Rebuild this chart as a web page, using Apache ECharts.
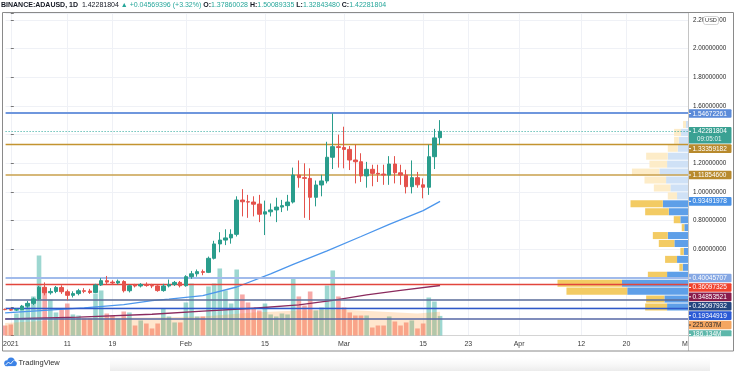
<!DOCTYPE html>
<html>
<head>
<meta charset="utf-8">
<script src="https://cdn.jsdelivr.net/npm/echarts@6.0.0/dist/echarts.min.js"></script>
<style>
html,body{margin:0;padding:0;background:#ffffff;overflow:hidden}
#chart{width:736px;height:371px}
</style>
</head>
<body>
<div id="chart"></div>
<script>
// ================= DATA =================
const symbolTitle = 'BINANCE:ADAUSD, 1D';
const countdown = '09:05:01';

const dates = [
 '2020-12-31',
 '2021-01-01','2021-01-02','2021-01-03','2021-01-04','2021-01-05','2021-01-06','2021-01-07','2021-01-08','2021-01-09','2021-01-10',
 '2021-01-11','2021-01-12','2021-01-13','2021-01-14','2021-01-15','2021-01-16','2021-01-17','2021-01-18','2021-01-19','2021-01-20',
 '2021-01-21','2021-01-22','2021-01-23','2021-01-24','2021-01-25','2021-01-26','2021-01-27','2021-01-28','2021-01-29','2021-01-30','2021-01-31',
 '2021-02-01','2021-02-02','2021-02-03','2021-02-04','2021-02-05','2021-02-06','2021-02-07','2021-02-08','2021-02-09','2021-02-10',
 '2021-02-11','2021-02-12','2021-02-13','2021-02-14','2021-02-15','2021-02-16','2021-02-17','2021-02-18','2021-02-19','2021-02-20',
 '2021-02-21','2021-02-22','2021-02-23','2021-02-24','2021-02-25','2021-02-26','2021-02-27','2021-02-28',
 '2021-03-01','2021-03-02','2021-03-03','2021-03-04','2021-03-05','2021-03-06','2021-03-07','2021-03-08','2021-03-09','2021-03-10',
 '2021-03-11','2021-03-12','2021-03-13','2021-03-14','2021-03-15','2021-03-16','2021-03-17','2021-03-18'
];
const opens = [
 0.1820,
 0.1805,0.1770,0.1800,0.2050,0.2240,0.2550,0.3360,0.2980,0.3070,0.3350,
 0.3050,0.2800,0.2920,0.3120,0.3100,0.3000,0.3520,0.3820,0.3720,0.3660,
 0.3760,0.3120,0.3500,0.3450,0.3560,0.3480,0.3450,0.3130,0.3450,0.3550,0.3700,
 0.3470,0.4100,0.4300,0.4450,0.4400,0.5380,0.6380,0.6650,0.6800,0.7050,
 0.9440,0.9320,0.9300,0.9160,0.8460,0.8620,0.8750,0.8950,0.9050,0.9300,
 1.1180,1.1000,1.0950,0.9630,1.0490,1.0770,1.2420,1.3160,
 1.3100,1.2970,1.2230,1.2110,1.1120,1.1580,1.1300,1.1250,1.1180,1.1950,
 1.1340,1.1180,1.0370,1.1000,1.0500,1.0330,1.2460,1.37860028
];
const highs = [
 0.1880,
 0.1870,0.1900,0.2130,0.2400,0.2650,0.3450,0.3700,0.3300,0.3450,0.3500,
 0.3200,0.3080,0.3250,0.3300,0.3250,0.3600,0.4000,0.4150,0.3850,0.3900,
 0.3850,0.3550,0.3600,0.3650,0.3700,0.3600,0.3500,0.3600,0.3900,0.3800,0.3800,
 0.4200,0.4500,0.4600,0.4600,0.5500,0.6600,0.7200,0.7400,0.7400,0.9700,
 1.0200,0.9800,0.9700,0.9800,0.9400,0.9200,0.9600,0.9450,0.9800,1.1700,
 1.2200,1.2000,1.1650,1.0800,1.1200,1.3500,1.54672261,1.4000,
 1.4550,1.3200,1.3300,1.2700,1.2100,1.1900,1.1900,1.1900,1.2500,1.2500,
 1.1900,1.1550,1.2200,1.1400,1.0950,1.3300,1.4400,1.50089335
];
const lows = [
 0.1760,
 0.1720,0.1700,0.1770,0.1930,0.2120,0.2460,0.2800,0.2850,0.2950,0.2900,
 0.2450,0.2650,0.2800,0.2950,0.2900,0.2950,0.3450,0.3550,0.3550,0.3550,
 0.3000,0.3000,0.3350,0.3350,0.3400,0.3300,0.3050,0.3050,0.3350,0.3450,0.3350,
 0.3400,0.3950,0.4100,0.4200,0.4350,0.5300,0.5800,0.6300,0.6400,0.6900,
 0.8300,0.8200,0.8300,0.7900,0.7000,0.8300,0.7900,0.8600,0.8700,0.9200,
 1.0300,0.8200,0.8050,0.9000,0.9700,1.0600,1.1600,1.1700,
 1.1650,1.1530,1.0600,1.0700,1.0300,1.0400,1.0700,1.0500,1.0500,1.0600,
 1.0500,0.9900,0.9900,1.0300,0.9560,0.9800,1.1600,1.32843480
];
const closes = [
 0.1805,
 0.1770,0.1800,0.2050,0.2240,0.2550,0.3360,0.2980,0.3070,0.3350,0.3050,
 0.2800,0.2920,0.3120,0.3080,0.3000,0.3520,0.3820,0.3720,0.3660,0.3780,
 0.3120,0.3470,0.3450,0.3560,0.3480,0.3450,0.3130,0.3450,0.3550,0.3700,0.3470,
 0.4100,0.4300,0.4450,0.4400,0.5380,0.6380,0.6650,0.6800,0.7050,0.9440,
 0.9320,0.9300,0.9150,0.8450,0.8620,0.8750,0.8950,0.9050,0.9300,1.1180,
 1.1000,1.0950,0.9630,1.0490,1.0770,1.2420,1.3160,1.3100,
 1.2970,1.2230,1.2110,1.1120,1.1580,1.1300,1.1250,1.1180,1.1950,1.1340,
 1.1180,1.0370,1.1000,1.0500,1.0330,1.2460,1.37712408,1.42281804
];
// volume, millions
const volumes = [
 95,
 105,209,257,304,371,760,456,342,219,247,
 304,200,190,162,162,399,428,209,190,162,
 228,219,95,143,114,67,114,257,181,124,124,
 314,494,181,181,466,494,637,428,304,627,
 390,314,266,238,304,200,181,209,200,542,
 371,285,418,238,266,475,618,371,
 266,219,190,190,190,76,95,95,181,133,
 95,124,143,67,114,361,323,186.134
];

// moving averages
const maFastDates  = ['2020-12-31','2021-01-07','2021-01-14','2021-01-21','2021-01-26','2021-01-29','2021-02-04','2021-02-10','2021-02-16','2021-02-20','2021-02-26','2021-03-04','2021-03-09','2021-03-15','2021-03-18'];
const maFastValues = [0.157,0.175,0.192,0.215,0.243,0.254,0.278,0.338,0.430,0.495,0.590,0.690,0.775,0.870,0.93491978];
const maSlowDates  = ['2020-12-31','2021-01-13','2021-01-26','2021-02-04','2021-02-13','2021-02-21','2021-02-27','2021-03-05','2021-03-11','2021-03-18'];
const maSlowValues = [0.115,0.128,0.148,0.170,0.190,0.213,0.245,0.283,0.315,0.34853521];
const volMaDates   = ['2020-12-31','2021-01-08','2021-01-17','2021-01-26','2021-02-04','2021-02-13','2021-02-21','2021-02-28','2021-03-07','2021-03-14','2021-03-18'];
const volMaValues  = [119,143,171,171,181,219,238,247,228,209,225.037];

// horizontal levels
const levelValues = [1.54672261,1.33359182,1.11854600,0.40045707,0.36097325,0.25097932,0.19344919,0.115];

// volume profile (24 price rows), up / down volume per row
const vpLow = 0.1707, vpStep = 0.0553;
const vpUp   = [420,474,1220,1326,420,106,220,86,274,406,74,154,386,506,220,354,440,574,420,406,206,186,140,40];
const vpDown = [440,366,1220,1294,386,68,240,68,312,300,52,132,474,648,186,332,434,552,354,434,200,94,140,60];

// time axis tick labels
const tickDates  = ['2021-01-01','2021-01-11','2021-01-19','2021-02-01','2021-02-15','2021-03-01','2021-03-15','2021-03-23','2021-04-01','2021-04-12','2021-04-20'];
const tickLabels = ['2021','11','19','Feb','15','Mar','15','23','Apr','12','20'];
const extraTickDate = '2021-05-01', extraTickLabel = 'May';

// ================= STYLE =================
const FONT = '"Liberation Sans", Arial, sans-serif';
const UP = '#2a9d8c', DOWN = '#e4524c';
const levelColors = ['#6f97dd','#c39430','#c9a04c','#a1bbeb','#e2453c','#5a6b99','#2f59c9','#5667a6'];
const levelWidths = [2,1.3,1.5,2,1.3,1.5,1.3,1.5];

const DAY = 86400000, T0 = Date.parse('2021-01-01');
const dayNum = s => Math.round((Date.parse(s) - T0) / DAY);
const tickDays = tickDates.map(dayNum);

const chart = echarts.init(document.getElementById('chart'), null, {renderer: 'canvas'});

const candleData = dates.map((d, i) => [dayNum(d), opens[i], closes[i], lows[i], highs[i]]);
const volData = dates.map((d, i) => ({
  value: [dayNum(d), volumes[i]],
  itemStyle: {color: closes[i] >= opens[i] ? 'rgba(38,166,154,0.45)' : 'rgba(239,83,80,0.5)'}
}));
const vpData = vpUp.map((u, i) => [u, vpDown[i], i]);
const vpStrongTop = 13;

const priceFmt = v => {
  const k = v / 0.2;
  if (v < 0.01 || Math.abs(k - Math.round(k)) > 1e-6) return '';
  return v.toFixed(8);
};

const option = {
  animation: false,
  backgroundColor: '#ffffff',
  textStyle: {fontFamily: FONT},
  grid: [{left: 3, right: 48, top: 13, bottom: 35.5, containLabel: false}],
  xAxis: [
    {
      type: 'value', gridIndex: 0, min: -0.917, max: 119.894,
      axisLine: {show: true, onZero: false, lineStyle: {color: '#d4d4d4', width: 1}},
      axisTick: {show: false, customValues: tickDays},
      axisLabel: {
        customValues: tickDays, fontSize: 7, color: '#3a3a3a', margin: 5, fontFamily: FONT,
        formatter: v => { const i = tickDays.indexOf(Math.round(v)); return i >= 0 ? tickLabels[i] : ''; }
      },
      splitLine: {show: true, lineStyle: {color: '#eff1f6', width: 1}}
    },
    {type: 'value', gridIndex: 0, inverse: true, min: 0, max: 13700, show: false}
  ],
  yAxis: [
    {
      type: 'value', gridIndex: 0, position: 'right', min: 0, max: 2.2474, interval: 0.2,
      axisLine: {show: false},
      axisTick: {show: true, length: 3, lineStyle: {color: '#777'}},
      axisLabel: {fontSize: 6.3, color: '#2b2b2b', margin: 5, fontFamily: FONT, formatter: priceFmt},
      splitLine: {show: true, lineStyle: {color: '#eff1f6', width: 1}}
    },
    {type: 'value', gridIndex: 0, min: 0, max: 3064, show: false}
  ],
  series: [
    {
      type: 'custom', name: 'vp', xAxisIndex: 1, yAxisIndex: 0, z: 1, silent: true,
      data: vpData, encode: {x: 0, y: 2},
      renderItem: (params, api) => {
        const up = api.value(0), dn = api.value(1), row = api.value(2);
        const lo = vpLow + row * vpStep, hi = lo + vpStep;
        const a = api.coord([0, hi]);
        const b = api.coord([up, lo]);
        const c = api.coord([up + dn, lo]);
        const top = a[1] + 0.4, h = b[1] - a[1] - 0.9;
        const strong = row <= vpStrongTop;
        return {type: 'group', children: [
          {type: 'rect', shape: {x: b[0], y: top, width: a[0] - b[0], height: h}, style: {fill: strong ? '#5e9fe8' : '#cfe1f6'}},
          {type: 'rect', shape: {x: c[0], y: top, width: b[0] - c[0], height: h}, style: {fill: strong ? '#f3cb63' : '#fdecc8'}}
        ]};
      }
    },
    {
      type: 'bar', name: 'Volume', xAxisIndex: 0, yAxisIndex: 1, z: 2, barWidth: 4.6,
      data: volData, silent: true
    },
    {
      type: 'line', name: 'Vol MA', xAxisIndex: 0, yAxisIndex: 1, z: 3, symbol: 'none', silent: true,
      data: volMaDates.map((d, i) => [dayNum(d), volMaValues[i]]),
      lineStyle: {width: 0, opacity: 0},
      areaStyle: {color: 'rgba(255,145,40,0.33)'}
    },
    {
      type: 'line', name: 'MA slow', xAxisIndex: 0, yAxisIndex: 0, z: 4, symbol: 'none', silent: true,
      data: maSlowDates.map((d, i) => [dayNum(d), maSlowValues[i]]),
      lineStyle: {color: '#8b2b5e', width: 1.3},
      markLine: {
        silent: true, symbol: ['none', 'none'], label: {show: false},
        data: levelValues.map((v, i) => ({yAxis: v, lineStyle: {color: levelColors[i], width: levelWidths[i], type: 'solid'}}))
      }
    },
    {
      type: 'line', name: 'MA fast', xAxisIndex: 0, yAxisIndex: 0, z: 4, symbol: 'none', silent: true,
      data: maFastDates.map((d, i) => [dayNum(d), maFastValues[i]]),
      lineStyle: {color: '#4c96ec', width: 1.3}
    },
    {
      type: 'candlestick', name: 'ADAUSD', xAxisIndex: 0, yAxisIndex: 0, z: 6, barWidth: 4, silent: true,
      data: candleData, encode: {x: 0, y: [1, 2, 3, 4]},
      itemStyle: {color: UP, color0: DOWN, borderColor: UP, borderColor0: DOWN, borderWidth: 1},
      markLine: {
        silent: true, symbol: ['none', 'none'], label: {show: false},
        data: [{yAxis: closes[closes.length - 1], lineStyle: {color: '#26a69a', width: 1, type: [1, 2]}}]
      }
    }
  ]
};
chart.setOption(option);

// ---------- overlay: header, frame, price labels ----------
const n = closes.length - 1;
const f8 = v => v.toFixed(8);
const chg = closes[n] - closes[n - 1];
const pct = chg / closes[n - 1] * 100;
const headerText =
  `{b|${symbolTitle}}  {n|${f8(closes[n])}} {g|▲ ${chg >= 0 ? '+' : ''}${f8(chg)} (${chg >= 0 ? '+' : ''}${pct.toFixed(2)}%)} ` +
  `{b|O:}{g|${f8(opens[n])}} {b|H:}{g|${f8(highs[n])}} {b|L:}{g|${f8(lows[n])}} {b|C:}{g|${f8(closes[n])}}`;

const labelDefs = [
  {v: levelValues[0], axis: 0, text: f8(levelValues[0]), bg: '#5b8bd9'},
  {v: closes[n], axis: 0, text: f8(closes[n]), sub: countdown, bg: '#3aa193'},
  {v: levelValues[1], axis: 0, text: f8(levelValues[1]), bg: '#b88a2d'},
  {v: levelValues[2], axis: 0, text: f8(levelValues[2]), bg: '#b88a2d'},
  {v: maFastValues[maFastValues.length - 1], axis: 0, text: f8(maFastValues[maFastValues.length - 1]), bg: '#4a92e6'},
  {v: levelValues[3], axis: 0, text: f8(levelValues[3]), bg: '#86a8e4'},
  {v: levelValues[4], axis: 0, text: f8(levelValues[4]), bg: '#f0412d'},
  {v: maSlowValues[maSlowValues.length - 1], axis: 0, text: f8(maSlowValues[maSlowValues.length - 1]), bg: '#8a1c4c'},
  {v: levelValues[5], axis: 0, text: f8(levelValues[5]), bg: '#23457f'},
  {v: levelValues[6], axis: 0, text: f8(levelValues[6]), bg: '#2b5ad5'},
  {v: volMaValues[volMaValues.length - 1], axis: 1, text: volMaValues[volMaValues.length - 1].toFixed(3) + 'M', bg: '#f4a661', color: '#2b2b2b'},
  {v: volumes[n], axis: 1, text: volumes[n].toFixed(3) + 'M', bg: '#5db7aa'}
];
const placed = labelDefs.map(l => {
  const y = chart.convertToPixel({yAxisIndex: l.axis}, l.v);
  return Object.assign({}, l, {y: y, h: l.sub ? 16.5 : 8.6});
}).sort((a, b) => a.y - b.y);
let prevBottom = -1e9;
placed.forEach(l => { l.top = Math.max(l.y - 4.3, prevBottom + 0.8); prevBottom = l.top + l.h; });

const gEls = [];
placed.forEach(l => {
  gEls.push({type: 'rect', z: 115, silent: true, shape: {x: 688.5, y: l.top, width: 43, height: l.h, r: 1}, style: {fill: l.bg}});
  gEls.push({type: 'line', z: 116, silent: true, shape: {x1: 688.5, y1: l.top + 4.3, x2: 691, y2: l.top + 4.3}, style: {stroke: l.color || '#ffffff', lineWidth: 1}});
  gEls.push({type: 'text', z: 116, silent: true, style: {text: l.text, x: 692.5, y: l.top + 4.5, fontSize: 6.5, fontFamily: FONT, fill: l.color || '#ffffff', verticalAlign: 'middle', align: 'left'}});
  if (l.sub) gEls.push({type: 'text', z: 116, silent: true, style: {text: l.sub, x: 697, y: l.top + 12.2, fontSize: 6.3, fontFamily: FONT, fill: '#e8f6f3', verticalAlign: 'middle', align: 'left'}});
});

const mayX = chart.convertToPixel({xAxisIndex: 0}, dayNum(extraTickDate));
gEls.push(
  {type: 'text', z: 100, silent: true, style: {text: extraTickLabel, x: mayX, y: 344, fontSize: 7, fontFamily: FONT, fill: '#3a3a3a', align: 'center', verticalAlign: 'middle'}},
  {type: 'rect', z: 120, silent: true, shape: {x: 689, y: 336.3, width: 44, height: 14.2}, style: {fill: '#ffffff'}},
  // USD badge
  {type: 'rect', z: 117, silent: true, shape: {x: 703.5, y: 16.5, width: 15, height: 8, r: 2}, style: {fill: '#ffffff', stroke: '#c6c6c6', lineWidth: 0.8}},
  {type: 'text', z: 118, silent: true, style: {text: 'USD', x: 711, y: 20.6, fontSize: 5.6, fontFamily: FONT, fill: '#333', align: 'center', verticalAlign: 'middle'}},
  // frame & separator
  {type: 'line', z: 125, silent: true, shape: {x1: 688.5, y1: 12.5, x2: 688.5, y2: 351}, style: {stroke: '#c4c4c4', lineWidth: 1}},
  {type: 'rect', z: 130, silent: true, shape: {x: 2.5, y: 12.5, width: 731, height: 338.5}, style: {fill: 'none', stroke: '#8a8a8a', lineWidth: 1}},
  // header
  {type: 'text', z: 130, silent: true, style: {
    text: headerText, x: 1, y: 5.5, verticalAlign: 'middle', fontSize: 7, fontFamily: FONT, fill: '#131722',
    rich: {
      b: {fontWeight: 'bold', fill: '#131722', fontSize: 7, fontFamily: FONT},
      n: {fill: '#131722', fontSize: 7, fontFamily: FONT},
      g: {fill: '#26a69a', fontSize: 7, fontFamily: FONT}
    }
  }},
  // bottom shadow
  {type: 'rect', z: 90, silent: true, shape: {x: 110, y: 357, width: 600, height: 14},
   style: {fill: new echarts.graphic.LinearGradient(0, 0, 0, 1, [{offset: 0, color: 'rgba(230,230,230,0)'}, {offset: 1, color: 'rgba(200,200,200,0.35)'}])}},
  // TradingView logo
  {type: 'circle', z: 131, silent: true, shape: {cx: 7.2, cy: 363.2, r: 3}, style: {fill: '#3b82e6'}},
  {type: 'circle', z: 131, silent: true, shape: {cx: 11, cy: 361, r: 3.6}, style: {fill: '#3b82e6'}},
  {type: 'circle', z: 131, silent: true, shape: {cx: 14.3, cy: 363.6, r: 2.5}, style: {fill: '#3b82e6'}},
  {type: 'rect', z: 131, silent: true, shape: {x: 5, y: 363, width: 10.5, height: 3.1}, style: {fill: '#3b82e6'}},
  {type: 'polyline', z: 132, silent: true, shape: {points: [[5.5, 365.2], [8.5, 362], [10.5, 364], [13.5, 360.5]]}, style: {stroke: '#ffffff', lineWidth: 0.9, fill: 'none'}},
  {type: 'text', z: 131, silent: true, style: {text: 'TradingView', x: 18.5, y: 362.5, fontSize: 7.5, fontFamily: FONT, fill: '#2e2e2e', verticalAlign: 'middle'}}
);
chart.setOption({graphic: {elements: gEls}});
</script>
</body>
</html>
